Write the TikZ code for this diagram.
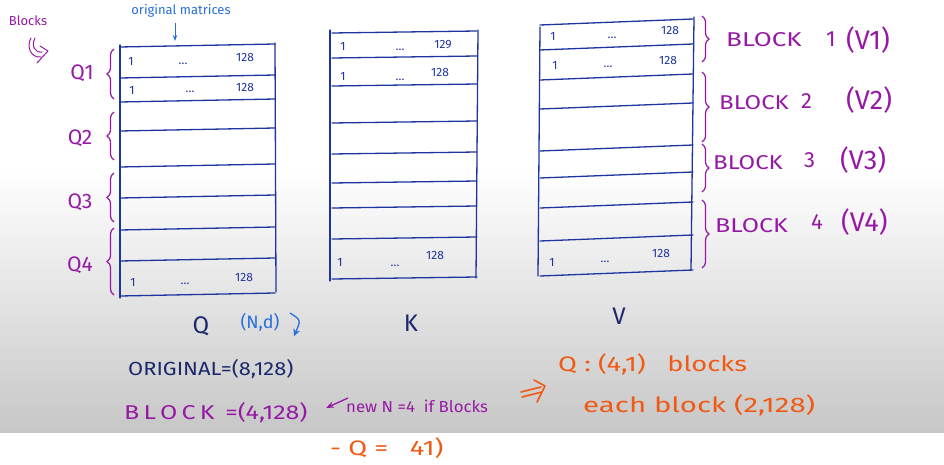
\documentclass[tikz,border=0pt]{standalone}
\usepackage{fontspec}
\setmainfont{Fira Sans}
\usetikzlibrary{decorations.pathreplacing,arrows.meta}
\definecolor{matblue}{RGB}{30,52,160}
\definecolor{navy}{RGB}{28,40,110}
\definecolor{lblue}{RGB}{40,110,220}
\definecolor{purp}{RGB}{150,25,165}
\definecolor{orng}{RGB}{240,90,20}
\tikzset{
  mline/.style={draw=matblue,line width=1.3pt,line cap=round},
  cell/.style={text=matblue,font=\fontsize{12}{14}\selectfont,inner sep=0pt},
  qlab/.style={text=purp,font=\fontsize{21}{24}\selectfont,inner sep=0pt},
  vword/.style={text=purp,font=\fontsize{20}{24}\selectfont,anchor=west,inner sep=0pt},
  vpar/.style={text=purp,font=\fontsize{27}{30}\selectfont,anchor=west,inner sep=0pt},
  bracel/.style={draw=purp,line width=1.2pt,decorate,decoration={brace,amplitude=7pt}},
  mtitle/.style={text=navy,font=\fontsize{24}{28}\selectfont,inner sep=0pt},
  otext/.style={text=orng,font=\fontsize{21}{24}\selectfont,anchor=west,inner sep=0pt},
  ostroke/.style={draw=orng,line width=1.6pt,line cap=round,line join=round},
}
\begin{document}
\begin{tikzpicture}[x=1pt,y=-1pt]
\useasboundingbox (0,0) rectangle (944,465);
% background
\fill[white] (0,0) rectangle (944,465);
\shade[top color=white,bottom color=black!22] (0,170) rectangle (944,432);
% ---------- Q matrix ----------
\draw[mline] (120,45) -- (120,298);
\draw[mline] (275,43) -- (276,292);
\foreach \y in {46,77,101,130,166,197,229,260,295}
  \draw[mline] (120,\y+1) -- (275,\y-2);
\node[cell] (q1a) at (131,61) {1};
\node[cell] (q1b) at (183,64) {\dots};
\node[cell] (q1c) at (245,58) {128};
\node[cell] (q2a) at (132,90) {1};
\node[cell] (q2b) at (190,92) {\dots};
\node[cell] (q2c) at (245,87) {128};
\node[cell] (q8a) at (133,282) {1};
\node[cell] (q8b) at (185,284) {\dots};
\node[cell] (q8c) at (244,277) {128};
% Q braces
\draw[bracel] (114,99) -- (114,49);
\draw[bracel] (114,160) -- (114,112);
\draw[bracel] (114,222) -- (114,173);
\draw[bracel] (114,295) -- (114,228);
\node[qlab] (Q1) at (82,73) {Q1};
\node[qlab] (Q2) at (80,138) {Q2};
\node[qlab] (Q3) at (80,202) {Q3};
\node[qlab] (Q4) at (80,265) {Q4};
% annotations top-left
\node[text=purp,font=\fontsize{13}{15}\selectfont] (blk) at (28,21) {Blocks};
\begin{scope}[purp,line width=1pt,line cap=round,line join=round]
  \draw (31,38) .. controls (26,47) and (31,58) .. (41,57);
  \draw (35,38) .. controls (31,46) and (35,53) .. (42,52);
  \draw (40,46) -- (48,51) -- (37,63);
\end{scope}
\node[text=lblue,font=\fontsize{13}{15}\selectfont] (orig) at (181,11) {original matrices};
\draw[lblue,line width=1pt,-{Stealth[length=6pt]}] (orig.south) ++(-6,2) -- ++(0,18);
% ---------- K matrix ----------
\draw[mline] (330,30) -- (330,281);
\draw[mline] (478,30) -- (476,278);
\foreach \y in {32,57,85,122,153,182,207,238,278}
  \draw[mline] (332,\y+1) -- (477,\y-1);
\node[cell] (k1a) at (343,46) {1};
\node[cell] (k1b) at (400,50) {\dots};
\node[cell] (k1c) at (443,45) {129};
\node[cell] (k2a) at (343,76) {1};
\node[cell] (k2b) at (400,80) {\dots};
\node[cell] (k2c) at (440,73) {128};
\node[cell] (k8a) at (340,262) {1};
\node[cell] (k8b) at (395,266) {\dots};
\node[cell] (k8c) at (435,255) {128};
% ---------- V matrix ----------
\draw[mline] (540,27) -- (538,276);
\draw[mline] (694,17) -- (691,270);
\foreach \y in {22,47,77,106,148,175,205,238,273}
  \draw[mline] (540,\y+3) -- (693,\y-3);
\node[cell] (v1a) at (553,36) {1};
\node[cell] (v1b) at (612,38) {\dots};
\node[cell] (v1c) at (670,31) {128};
\node[cell] (v2a) at (555,65) {1};
\node[cell] (v2b) at (608,67) {\dots};
\node[cell] (v2c) at (668,60) {128};
\node[cell] (v8a) at (552,262) {1};
\node[cell] (v8b) at (605,262) {\dots};
\node[cell] (v8c) at (661,253) {128};
% V braces
\draw[bracel] (702,16) -- (702,62);
\draw[bracel] (702,72) -- (702,142);
\draw[bracel] (702,144) -- (702,192);
\draw[bracel] (702,200) -- (702,268);
\node[vword] (B1w) at (726,40) {\scalebox{1.3}[1]{BLOCK}};
\node[vword] (B1n) at (826,39) {\fontsize{22}{24}\selectfont 1};
\node[vpar]  (B1v) at (846,40) {(V1)};
\node[vword] (B2w) at (719,103) {\scalebox{1.2}[1]{BLOCK}};
\node[vword] (B2n) at (801,101) {\fontsize{22}{24}\selectfont 2};
\node[vpar]  (B2v) at (846,100) {(V2)};
\node[vword] (B3w) at (713,163) {\scalebox{1.2}[1]{BLOCK}};
\node[vword] (B3n) at (804,160) {\fontsize{22}{24}\selectfont 3};
\node[vpar]  (B3v) at (840,160) {(V3)};
\node[vword] (B4w) at (715,226) {\scalebox{1.25}[1]{BLOCK}};
\node[vword] (B4n) at (811,222) {\fontsize{22}{24}\selectfont 4};
\node[vpar]  (B4v) at (841,222) {(V4)};
% ---------- bottom texts ----------
\node[mtitle] (Qt) at (201,326) {Q};
\node[text=lblue,font=\fontsize{18}{20}\selectfont,inner sep=0pt] (Nd) at (260,322) {(N,d)};
\draw[lblue,line width=1.3pt,-{Stealth[length=7pt,width=7pt]}] (290,313) .. controls (301,320) .. (294,336);
\node[mtitle] (Kt) at (411,323) {K};
\node[mtitle] (Vt) at (619,316) {V};
\node[text=navy,font=\fontsize{19}{22}\selectfont,anchor=west,inner sep=0pt] (origt) at (128,369) {\scalebox{1.15}[1]{ORIGINAL=(8,128)}};
\node[text=purp,font=\fontsize{20}{24}\selectfont,anchor=west,inner sep=0pt] (blockt) at (124,413) {\scalebox{1.25}[1]{B\,L\,O\,C\,K\ \,=(4,128)}};
\node[text=purp,font=\fontsize{16}{18}\selectfont,anchor=west,inner sep=0pt] (newN) at (346,406) {\scalebox{1.05}[1]{new N =4\ \ if Blocks}};
\draw[purp,line width=1.3pt,-{Stealth[length=8pt]}] (348,398) -- (326,408);
\begin{scope}[ostroke]
  \draw (521,392) -- (541,387);
  \draw (522,397) -- (542,392);
  \draw (534,380) -- (545,386) -- (537,402);
\end{scope}
\node[otext] (qblk) at (558,364) {\scalebox{1.3}[1]{Q : (4,1)\ \ \ blocks}};
\node[otext] (each) at (583,405) {\scalebox{1.4}[1]{each block (2,128)}};
\node[otext] (qeq) at (330,448) {\scalebox{1.3}[1]{- Q =\ \ \ 41)}};
\end{tikzpicture}
\end{document}
